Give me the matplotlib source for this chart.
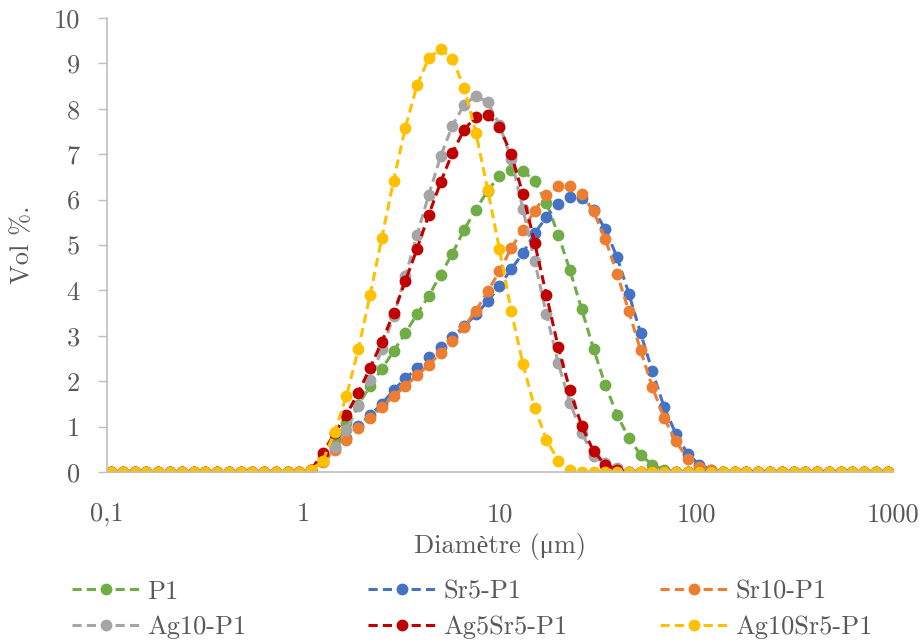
import numpy as np
import matplotlib.pyplot as plt

# particle size classes (um)
diam = [0.1050, 0.1205, 0.1384, 0.1588, 0.1823, 0.2092, 0.2401, 0.2756, 0.3163, 0.3631,
        0.4168, 0.4784, 0.5491, 0.6302, 0.7233, 0.8303, 0.9530, 1.094, 1.256, 1.441,
        1.654, 1.899, 2.180, 2.502, 2.872, 3.296, 3.784, 4.343, 4.985, 5.722,
        6.568, 7.539, 8.653, 9.931, 11.40, 13.08, 15.02, 17.24, 19.78, 22.71,
        26.07, 29.92, 34.34, 39.42, 45.24, 51.93, 59.61, 68.42, 78.52, 90.13,
        103.5, 118.7, 136.3, 156.4, 179.6, 206.1, 236.6, 271.6, 311.7, 357.8,
        410.7, 471.4, 541.0, 621.0, 712.8, 818.1, 939.0]

zeros17 = [0] * 17

p1 = zeros17 + [0.05, 0.35, 0.70, 1.08, 1.48, 1.89, 2.27, 2.66, 3.06, 3.48, 3.88, 4.35, 4.81,
                5.34, 5.78, 6.20, 6.52, 6.66, 6.64, 6.40, 5.93, 5.23, 4.44, 3.58, 2.71,
                1.92, 1.26, 0.75, 0.38, 0.16, 0.05] + [0] * 19
sr5 = zeros17 + [0.05, 0.25, 0.52, 0.76, 1.02, 1.25, 1.50, 1.80, 2.06, 2.29, 2.53, 2.75, 2.97,
                 3.21, 3.47, 3.76, 4.09, 4.47, 4.82, 5.26, 5.62, 5.91, 6.06, 6.04, 5.78,
                 5.35, 4.73, 3.93, 3.06, 2.22, 1.43, 0.84, 0.40, 0.16, 0.05] + [0] * 15
sr10 = zeros17 + [0.05, 0.22, 0.48, 0.71, 0.97, 1.19, 1.43, 1.67, 1.89, 2.13, 2.36, 2.62, 2.88,
                  3.20, 3.55, 3.98, 4.42, 4.93, 5.34, 5.76, 6.11, 6.29, 6.31, 6.12, 5.74,
                  5.13, 4.37, 3.54, 2.68, 1.87, 1.19, 0.68, 0.29, 0.12, 0.05] + [0] * 15
ag10 = zeros17 + [0.05, 0.30, 0.55, 0.93, 1.45, 2.03, 2.70, 3.43, 4.31, 5.23, 6.11, 6.95, 7.63,
                  8.09, 8.29, 8.14, 7.65, 6.90, 5.79, 4.64, 3.47, 2.40, 1.52, 0.86, 0.35,
                  0.20, 0.08] + [0] * 23
ag5sr5 = zeros17 + [0.05, 0.42, 0.86, 1.26, 1.75, 2.29, 2.86, 3.50, 4.20, 4.92, 5.67, 6.38, 7.03,
                    7.54, 7.83, 7.87, 7.60, 7.00, 6.12, 5.04, 3.89, 2.75, 1.80, 1.01, 0.46,
                    0.16, 0.05] + [0] * 23
ag10sr5 = zeros17 + [0.05, 0.25, 0.89, 1.67, 2.70, 3.89, 5.15, 6.42, 7.58, 8.52, 9.12, 9.32, 9.10,
                     8.46, 7.47, 6.22, 4.91, 3.55, 2.38, 1.41, 0.71, 0.25, 0.05] + [0] * 27

series = [('P1', p1, '#70AD47'), ('Sr5-P1', sr5, '#4472C4'), ('Sr10-P1', sr10, '#ED7D31'),
          ('Ag10-P1', ag10, '#A5A5A5'), ('Ag5Sr5-P1', ag5sr5, '#C00000'),
          ('Ag10Sr5-P1', ag10sr5, '#FFC000')]

plt.rcParams['font.family'] = ['cmr10', 'Liberation Serif']
plt.rcParams['font.size'] = 19
txt = '#595959'

fig = plt.figure(figsize=(9.21, 6.43), dpi=100)
ax = fig.add_axes([0.1162, 0.2659, 0.8534, 0.7061])

lines = []
for name, vals, col in series:
    l, = ax.plot(diam, vals, linestyle=(0, (3, 1.7)), linewidth=2.2, color=col,
                 marker='o', markersize=7.5, label=name)
    lines.append(l)

ax.set_xscale('log')
ax.set_xlim(0.1, 1000)
ax.set_ylim(0, 10)
ax.set_xticks([0.1, 1, 10, 100, 1000])
ax.set_xticklabels(['0,1', '1', '10', '100', '1000'])
ax.minorticks_off()
ax.set_yticks(range(0, 11))
ax.tick_params(axis='x', length=0, pad=22, colors=txt, labelsize=19)
ax.tick_params(axis='y', length=6.5, width=1, pad=13, colors=txt, labelsize=19)
ax.tick_params(axis='y', color='#BFBFBF')
for s in ['top', 'right']:
    ax.spines[s].set_visible(False)
for s in ['left', 'bottom']:
    ax.spines[s].set_color('#BFBFBF')
    ax.spines[s].set_linewidth(1.2)

ax.set_xlabel('Diamètre (\u03bcm)', color=txt, fontsize=19, labelpad=5)
ax.set_ylabel('Vol %.', color=txt, fontsize=19, labelpad=14)

# legend: three columns, two rows (row-major like the original)
colx = [0.0782, 0.3996, 0.7166]
for k in range(3):
    hs = [lines[k], lines[k + 3]]
    leg = fig.legend(handles=hs, loc='center left', bbox_to_anchor=(colx[k], 0.052),
                     frameon=False, handlelength=2.6, handletextpad=0.25, labelspacing=0.45,
                     borderpad=0, borderaxespad=0, fontsize=19, numpoints=1)
    for t in leg.get_texts():
        t.set_color(txt)

plt.savefig('out.png', dpi=100)
